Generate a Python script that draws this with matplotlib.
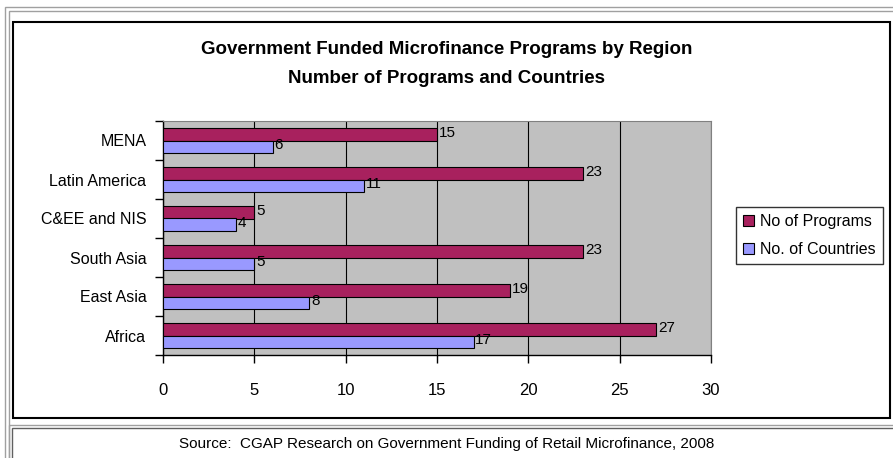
import matplotlib
matplotlib.use("Agg")
import matplotlib.pyplot as plt
from matplotlib.patches import Rectangle
import numpy as np

regions = ["Africa", "East Asia", "South Asia", "C&EE and NIS", "Latin America", "MENA"]
programs = [27, 19, 23, 5, 23, 15]
countries = [17, 8, 5, 4, 11, 6]
x_ticks = [0, 5, 10, 15, 20, 25, 30]

W, H = 893, 458
narrow = ["Liberation Sans Narrow", "Liberation Sans", "DejaVu Sans"]
plt.rcParams["font.family"] = ["Liberation Sans", "DejaVu Sans"]

fig = plt.figure(figsize=(W / 100, H / 100), dpi=100)
fig.patch.set_facecolor("white")


def box(x0, y0, x1, y1, color="black", lw=1.0):
    # pixel coords from top-left
    r = Rectangle((x0 / W, 1 - y1 / H), (x1 - x0) / W, (y1 - y0) / H,
                  transform=fig.transFigure, fill=False, edgecolor=color, linewidth=lw)
    fig.add_artist(r)


box(5, 7, 900, 470, color="#a0a0a0", lw=1.0)
box(9, 11, 900, 470, color="#a0a0a0", lw=1.0)
box(13, 22, 890, 418, color="black", lw=1.5)
box(9, 425, 900, 470, color="#a0a0a0", lw=1.0)
box(12, 428, 900, 470, color="#606060", lw=1.0)

ax = fig.add_axes([163 / W, 1 - 355 / H, (711 - 163) / W, (355 - 121) / H])
ax.set_facecolor("#c0c0c0")

y = np.arange(len(regions))
h = 0.31
b1 = ax.barh(y + h / 2, programs, height=h, color="#a8215e", edgecolor="black",
             linewidth=0.8, label="No of Programs", zorder=3)
b2 = ax.barh(y - h / 2, countries, height=h, color="#9999ff", edgecolor="black",
             linewidth=0.8, label="No. of Countries", zorder=3)

for bars in (b1, b2):
    for rect in bars:
        v = rect.get_width()
        ax.text(v + 0.1, rect.get_y() + rect.get_height() / 2 + 0.03, f"{v:g}",
                ha="left", va="center", fontsize=11, color="black", zorder=4)

ax.set_xlim(0, 30)
ax.set_ylim(-0.5, len(regions) - 0.5)
ax.set_xticks(x_ticks)
ax.set_xticklabels([str(t) for t in x_ticks], family=narrow, fontsize=12)
ax.xaxis.grid(True, color="black", linewidth=0.8, zorder=1)
ax.set_axisbelow(True)

ax.set_yticks(np.arange(len(regions) + 1) - 0.5)
ax.set_yticklabels([])
ax.set_yticks(y, minor=True)
ax.set_yticklabels(regions, minor=True, fontsize=11.5)
ax.tick_params(axis="y", which="minor", length=0, pad=12)
ax.tick_params(axis="y", which="major", length=6, direction="out", width=1)
ax.tick_params(axis="x", length=6, direction="out", width=1, pad=14)

for s in ["top", "right"]:
    ax.spines[s].set_color("#808080")
for s in ["left", "bottom"]:
    ax.spines[s].set_color("black")
    ax.spines[s].set_linewidth(1.0)

leg = fig.legend(handles=[b1, b2], loc="upper left", bbox_to_anchor=(736 / W, 1 - 207 / H),
                 frameon=True, fancybox=False, edgecolor="black", fontsize=11.5,
                 handlelength=0.7, handleheight=0.7, handletextpad=0.35,
                 borderpad=0.45, labelspacing=0.8, borderaxespad=0)
leg.get_frame().set_linewidth(1.0)

fig.text(447 / W, 1 - 50 / H, "Government Funded Microfinance Programs by Region",
         ha="center", va="center", fontsize=13.5, fontweight="bold", family=narrow)
fig.text(447 / W, 1 - 78 / H, "Number of Programs and Countries",
         ha="center", va="center", fontsize=13.5, fontweight="bold", family=narrow)
fig.text(447 / W, 1 - 444 / H,
         "Source:  CGAP Research on Government Funding of Retail Microfinance, 2008",
         ha="center", va="center", fontsize=11, family=narrow)

fig.savefig("out.png", dpi=100)
